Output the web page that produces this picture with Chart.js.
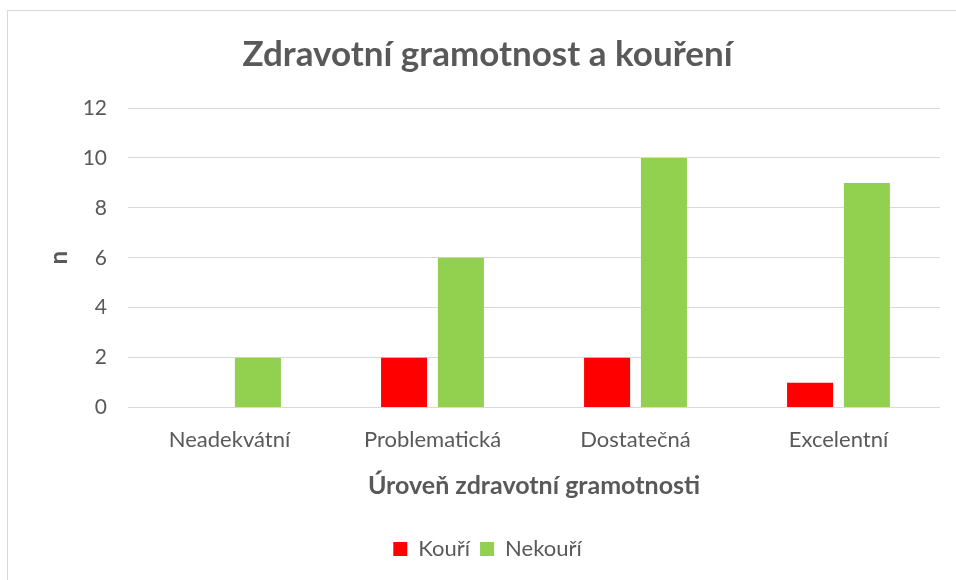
<!DOCTYPE html>
<html>
<head>
<meta charset="utf-8">
<script src="https://cdn.jsdelivr.net/npm/chart.js@4"></script>
<style>
  body { margin: 0; background: #fff; }
  #frame { position: absolute; left: 7px; top: 10px; width: 1000px; height: 1000px; border: 1px solid #d9d9d9; }
  #wrap { position: absolute; left: 0; top: 0; width: 956px; height: 580px; }
</style>
</head>
<body>
<div id="frame"></div>
<div id="wrap"><canvas id="myBarChart"></canvas></div>
<script>
// DATA
const categories = ['Neadekvátní', 'Problematická', 'Dostatečná', 'Excelentní'];
const kouri = [0, 2, 2, 1];
const nekouri = [2, 6, 10, 9];
const yTicks = [0, 2, 4, 6, 8, 10, 12];

const textColor = '#595959';
const fontFamily = 'Lato, "Open Sans", sans-serif';

const ctx = document.getElementById('myBarChart').getContext('2d');

const myBarChart = new Chart(ctx, {
  type: 'bar',
  data: {
    labels: categories,
    datasets: [
      { label: 'Kouří', data: kouri, backgroundColor: '#FF0000' },
      { label: 'Nekouří', data: nekouri, backgroundColor: '#92D050' }
    ]
  },
  options: {
    responsive: true,
    maintainAspectRatio: false,
    animation: false,
    categoryPercentage: 0.56,
    barPercentage: 0.81,
    layout: { padding: { left: 35, right: 16, top: 20, bottom: 10 } },
    plugins: {
      title: {
        display: true,
        text: 'Zdravotní gramotnost a kouření',
        color: textColor,
        font: { family: fontFamily, size: 35, weight: 'bold' },
        padding: { top: 14, bottom: 32 }
      },
      legend: {
        position: 'bottom',
        labels: {
          color: textColor,
          font: { family: fontFamily, size: 22 },
          boxWidth: 14,
          boxHeight: 14,
          padding: 10
        }
      },
      tooltip: { enabled: false }
    },
    scales: {
      x: {
        grid: { display: false },
        border: { display: false },
        ticks: { color: textColor, font: { family: fontFamily, size: 22 }, padding: 11 },
        title: {
          display: true,
          text: 'Úroveň zdravotní gramotnosti',
          color: textColor,
          font: { family: fontFamily, size: 25, weight: 'bold' },
          padding: { top: 7, bottom: 27 }
        }
      },
      y: {
        min: 0,
        max: 12,
        afterBuildTicks: (axis) => { axis.ticks = yTicks.map(v => ({ value: v })); },
        afterFit: (axis) => { axis.width = 93; },
        grid: { color: '#d9d9d9', drawTicks: false, lineWidth: 1 },
        border: { display: false },
        ticks: { color: textColor, font: { family: fontFamily, size: 21 }, padding: 21 },
        title: {
          display: true,
          text: 'n',
          color: textColor,
          font: { family: fontFamily, size: 24, weight: 'bold' },
          padding: { top: 10, bottom: 10 }
        }
      }
    }
  }
});
</script>
</body>
</html>
